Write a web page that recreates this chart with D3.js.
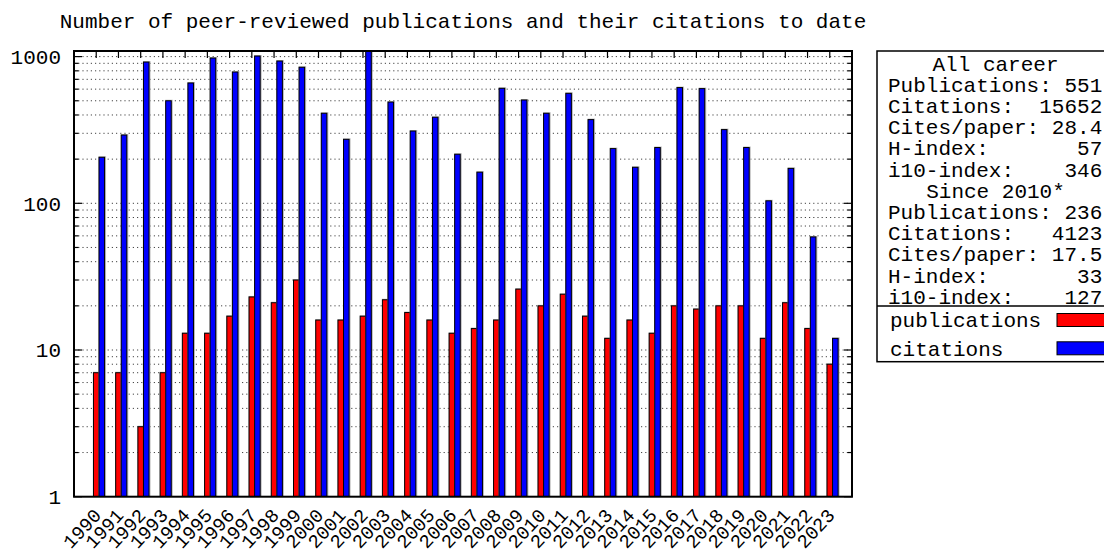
<!DOCTYPE html>
<html><head><meta charset="utf-8">
<script src="https://cdn.jsdelivr.net/npm/d3@7"></script>
<style>
body{margin:0;background:#fff}
svg{display:block}
text{font-family:"Liberation Mono","Courier New",monospace;font-size:21px;fill:#000}
</style>
</head><body>
<svg id="c" width="1104" height="556"></svg>
<script>
const years = ["1990","1991","1992","1993","1994","1995","1996","1997","1998","1999",
  "2000","2001","2002","2003","2004","2005","2006","2007","2008","2009",
  "2010","2011","2012","2013","2014","2015","2016","2017","2018","2019",
  "2020","2021","2022","2023"];
const publications = [7,7,3,7,13,13,17,23,21,30,16,16,17,22,18,16,13,14,16,26,
  20,24,17,12,16,13,20,19,20,20,12,21,14,8];
const citations = [206,292,918,500,661,978,785,1009,933,846,411,273,1100,490,311,386,216,163,608,506,
  411,562,372,236,176,240,615,605,318,240,104,173,59,12];
const yTickValues = [1,10,100,1000];
const yTickLabels = ["1","10","100","1000"];
const titleText = "Number of peer-reviewed publications and their citations to date";
const statsHeaders = ["All career","Since 2010*"];
const statsLines = ["All career","Publications: 551","Citations:  15652","Cites/paper: 28.4",
  "H-index:       57","i10-index:    346","Since 2010*","Publications: 236","Citations:   4123",
  "Cites/paper: 17.5","H-index:       33","i10-index:    127"];
const seriesNames = ["publications","citations"];
const seriesColors = ["#ff0000","#0000ff"];

const svg = d3.select("#c");
const L = 74, R = 852, T = 51, B = 496.7;

const x = d3.scaleLinear().domain([-1.125, years.length - 0.125]).range([L, R]);
const y = d3.scaleLog().domain([1, 1092]).range([B, T]);

const gridVals = [];
for (let d = 1; d <= 1000; d *= 10) for (let m = 1; m <= 9; m++) { const v = d*m; if (v <= 1000) gridVals.push(v); }

// title
svg.append("text").attr("x", (L+R)/2).attr("y", 21).attr("dy","0.35em")
  .attr("text-anchor","middle").text(titleText);

// grid
svg.append("g").selectAll("line").data(gridVals.filter(v => v > 1)).join("line")
  .attr("x1", L).attr("x2", R).attr("y1", d => y(d)).attr("y2", d => y(d))
  .attr("stroke","#444").attr("stroke-width",1).attr("stroke-dasharray","1.2,3");

svg.append("clipPath").attr("id","pc").append("rect")
  .attr("x", L).attr("y", T).attr("width", R-L).attr("height", B-T);

const bars = svg.append("g").attr("clip-path","url(#pc)");
const series = [publications, citations];
series.forEach((vals, s) => {
  const g = bars.append("g");
  const x0 = i => x(i - 0.25 + s*0.25);
  const w = x(0.25) - x(0);
  g.selectAll("rect.sh").data(vals).join("rect").attr("class","sh")
    .attr("x", (d,i) => x0(i) - 0.5).attr("y", d => y(d) - 1)
    .attr("width", w + 2).attr("height", d => B - y(d) + 1)
    .attr("fill","#b8b8b8");
  g.selectAll("rect.b").data(vals).join("rect").attr("class","b")
    .attr("x", (d,i) => x0(i)).attr("y", d => y(d))
    .attr("width", w).attr("height", d => B - y(d))
    .attr("fill", seriesColors[s]).attr("stroke","#000").attr("stroke-width",1);
});

// axis ticks
const tk = svg.append("g").attr("stroke","#000").attr("stroke-width",1.2);
gridVals.forEach(v => {
  const len = yTickValues.includes(v) ? 8 : 4.5;
  tk.append("line").attr("x1", L).attr("x2", L+len).attr("y1", y(v)).attr("y2", y(v));
  tk.append("line").attr("x1", R).attr("x2", R-len).attr("y1", y(v)).attr("y2", y(v));
});
years.forEach((yr, i) => {
  const xx = x(i - 0.125);
  tk.append("line").attr("x1", xx).attr("x2", xx).attr("y1", T).attr("y2", T+7);
});

// frame
svg.append("rect").attr("x", L).attr("y", T).attr("width", R-L).attr("height", B-T)
  .attr("fill","none").attr("stroke","#000").attr("stroke-width",2);

// y labels
svg.append("g").selectAll("text").data(yTickValues).join("text")
  .attr("x", 61).attr("y", d => y(d)).attr("dy","0.35em").attr("text-anchor","end")
  .text((d,i) => yTickLabels[i]);

// x labels
svg.append("g").selectAll("text").data(years).join("text")
  .attr("transform", (d,i) => `translate(${x(i-0.125)+6},${B+19.5}) rotate(-47)`)
  .attr("text-anchor","end").style("font-size","19px").text(d => d);

// stats box
const bx = 877, by = 51;
svg.append("rect").attr("x", bx).attr("y", by).attr("width", 240).attr("height", 361.7-by)
  .attr("fill","#fff").attr("stroke","#000").attr("stroke-width",1.5);
svg.append("line").attr("x1", bx).attr("x2", 1110).attr("y1", 306).attr("y2", 306)
  .attr("stroke","#000").attr("stroke-width",1.5);
svg.append("g").selectAll("text").data(statsLines).join("text")
  .attr("x", d => statsHeaders.includes(d) ? 995.5 : 888)
  .attr("y", (d,i) => 63.3 + i*21.2).attr("dy","0.35em")
  .attr("text-anchor", d => statsHeaders.includes(d) ? "middle" : "start")
  .attr("xml:space","preserve").style("white-space","pre")
  .text(d => d);
seriesNames.forEach((n, s) => {
  const cy = 320 + s*28.3;
  svg.append("text").attr("x", 890).attr("y", cy).attr("dy","0.35em").text(n);
  svg.append("rect").attr("x", 1057).attr("y", cy-6.5).attr("width", 60).attr("height", 13)
    .attr("fill", seriesColors[s]).attr("stroke","#000").attr("stroke-width",1);
});
</script>
</body></html>
